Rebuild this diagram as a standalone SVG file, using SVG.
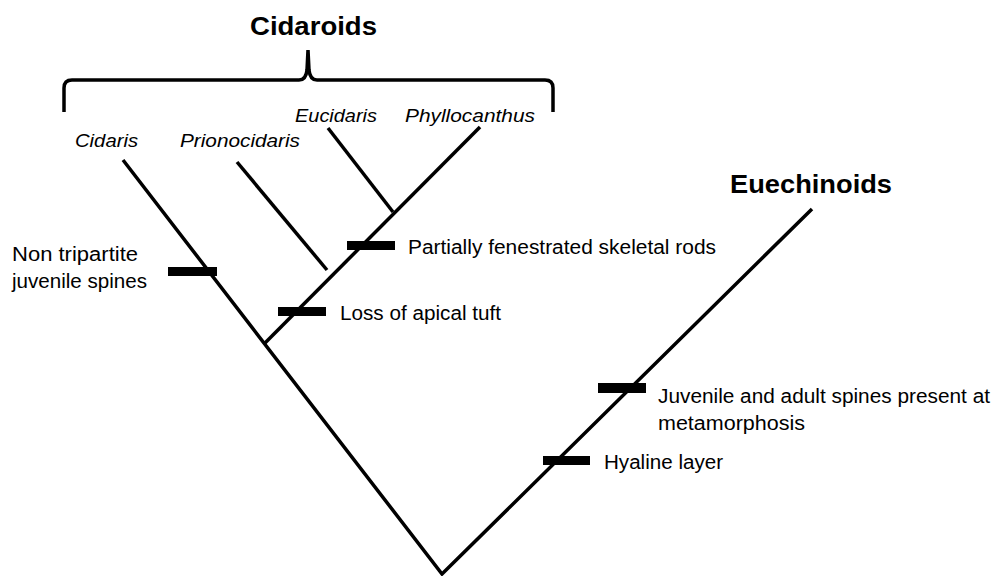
<svg xmlns="http://www.w3.org/2000/svg" width="993" height="576" viewBox="0 0 993 576">
<style>
.t{font-family:"Liberation Sans",Arial,sans-serif;font-size:20px;fill:#000}
.i{font-family:"Liberation Sans",Arial,sans-serif;font-size:19px;font-style:italic;fill:#000}
.b{font-family:"Liberation Sans",Arial,sans-serif;font-size:26px;font-weight:bold;fill:#000}
.br{stroke:#000;stroke-width:3.5;fill:none;stroke-linecap:butt}
.bar{fill:#000}
</style>
<rect width="993" height="576" fill="#fff"/>
<g id="connectors">
<path class="br" d="M123,160 L442,574 L812,209"/>
<path class="br" d="M264,344 L480,127"/>
<path class="br" d="M328,128 L393,212"/>
<path class="br" d="M237,162 L327,270"/>
</g>
<g id="cidaroids">
<path class="br" d="M64,112 L64,88 Q64,80 72,80 L299,80 Q306,80 307,70 L308,50 L309,70 Q310,80 317,80 L545,80 Q553,80 553,88 L553,112"/>
<text class="b" x="250" y="35" textLength="127" lengthAdjust="spacingAndGlyphs">Cidaroids</text>
</g>
<g id="euechinoids">
<text class="b" x="730" y="193" textLength="162" lengthAdjust="spacingAndGlyphs">Euechinoids</text>
</g>
<g id="cidaris"><text class="i" x="75" y="147" textLength="63" lengthAdjust="spacingAndGlyphs">Cidaris</text></g>
<g id="prionocidaris"><text class="i" x="180" y="147" textLength="120" lengthAdjust="spacingAndGlyphs">Prionocidaris</text></g>
<g id="eucidaris"><text class="i" x="295" y="122" textLength="82" lengthAdjust="spacingAndGlyphs">Eucidaris</text></g>
<g id="phyllocanthus"><text class="i" x="405" y="122" textLength="130" lengthAdjust="spacingAndGlyphs">Phyllocanthus</text></g>
<g id="char-nontripartite">
<rect class="bar" x="168" y="267" width="49" height="9"/>
<text class="t" x="12" y="261" textLength="126" lengthAdjust="spacingAndGlyphs">Non tripartite</text>
<text class="t" x="12" y="288" textLength="135" lengthAdjust="spacingAndGlyphs">juvenile spines</text>
</g>
<g id="char-fenestrated">
<rect class="bar" x="347" y="241" width="48" height="9"/>
<text class="t" x="408" y="254" textLength="308" lengthAdjust="spacingAndGlyphs">Partially fenestrated skeletal rods</text>
</g>
<g id="char-apical">
<rect class="bar" x="278" y="307" width="48" height="9"/>
<text class="t" x="340" y="320" textLength="161" lengthAdjust="spacingAndGlyphs">Loss of apical tuft</text>
</g>
<g id="char-spines">
<rect class="bar" x="598" y="383" width="48" height="10"/>
<text class="t" x="658" y="403" textLength="332" lengthAdjust="spacingAndGlyphs">Juvenile and adult spines present at</text>
<text class="t" x="658" y="430" textLength="147" lengthAdjust="spacingAndGlyphs">metamorphosis</text>
</g>
<g id="char-hyaline">
<rect class="bar" x="543" y="456" width="47" height="9"/>
<text class="t" x="604" y="469" textLength="119" lengthAdjust="spacingAndGlyphs">Hyaline layer</text>
</g>
</svg>
